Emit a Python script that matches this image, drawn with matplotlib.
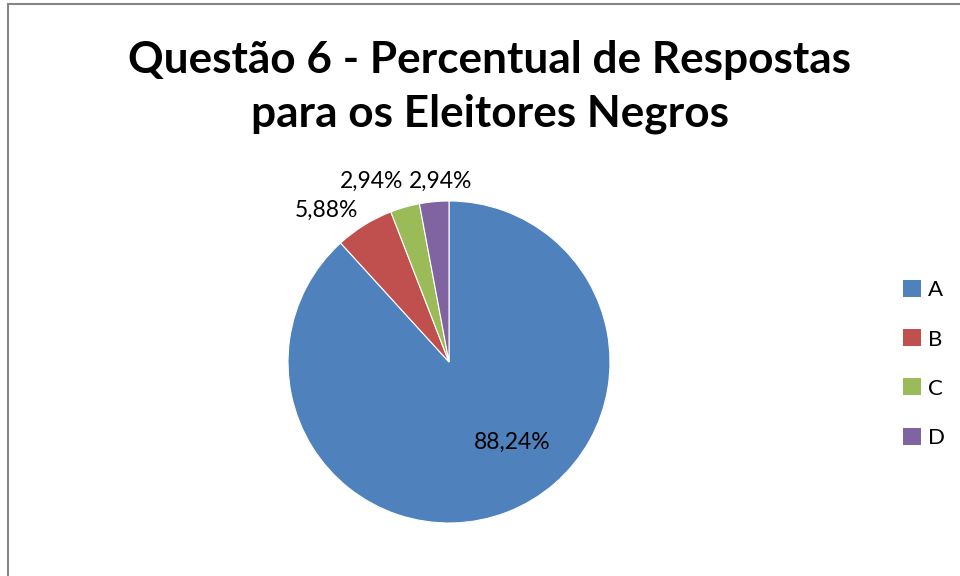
import matplotlib
matplotlib.use('Agg')
import matplotlib.pyplot as plt
from matplotlib.patches import Rectangle, Patch

# dados
categorias = ['A', 'B', 'C', 'D']
percentuais = [88.24, 5.88, 2.94, 2.94]
rotulos = ['88,24%', '5,88%', '2,94%', '2,94%']
cores = ['#4F81BD', '#C0504D', '#9BBB59', '#8064A2']

# posicao dos rotulos (unidades do raio)
pos_rotulos = [(0.39, -0.50), (-0.76, 0.94), (-0.48, 1.12), (-0.05, 1.12)]

plt.rcParams['font.family'] = ['Lato', 'DejaVu Sans']

fig = plt.figure(figsize=(9.6, 5.76), dpi=100)

# moldura cinza
fig.patches.append(Rectangle((8/960, -0.1), 1.2, (576-4)/576 + 0.1,
                             transform=fig.transFigure, fill=False,
                             edgecolor='#868686', linewidth=1.5))

fig.text(490/960, 1 - 87/576, 'Questão 6 - Percentual de Respostas\npara os Eleitores Negros',
         ha='center', va='center', fontsize=31.8, fontweight='bold', linespacing=1.4)

ax = fig.add_axes([(449-161)/960, (576-523)/576, 322/960, 322/576])
ax.pie(percentuais, colors=cores, startangle=90, counterclock=False, radius=1,
       wedgeprops=dict(edgecolor='white', linewidth=0.8))
ax.set_xlim(-1, 1)
ax.set_ylim(-1, 1)
ax.set_aspect('equal')
ax.axis('off')

for (x, y), txt in zip(pos_rotulos, rotulos):
    ax.text(x, y, txt, ha='center', va='center', fontsize=16.5)

handles = [Patch(facecolor=c, edgecolor='none') for c in cores]
fig.legend(handles, categorias, loc='center left', bbox_to_anchor=(892/960, 1 - 364/576),
           frameon=False, fontsize=16, handlelength=0.8, handleheight=0.8,
           handletextpad=0.3, labelspacing=1.3, borderpad=0)

fig.savefig('out.png', dpi=100)
